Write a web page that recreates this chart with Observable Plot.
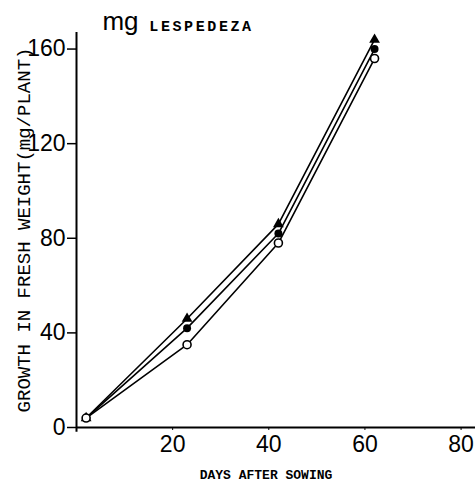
<!DOCTYPE html>
<html>
<head>
<meta charset="utf-8">
<script src="https://cdn.jsdelivr.net/npm/d3@7"></script>
<script src="https://cdn.jsdelivr.net/npm/@observablehq/plot@0.6"></script>
<style>
  html, body { margin: 0; padding: 0; background: #fff; }
</style>
</head>
<body>
<div id="chart"></div>
<script>
const days = [2, 23, 42, 62];
const seriesNames = ["triangle", "filled", "open"];
const triangleValues = [4, 46, 86, 164];
const filledValues = [4, 42, 82, 160];
const openValues = [4, 35, 78, 156];
const xTicks = [20, 40, 60, 80];
const yTicks = [0, 40, 80, 120, 160];
const titleText = "LESPEDEZA";
const unitText = "mg";
const xLabel = "DAYS AFTER SOWING";
const yLabel = "GROWTH IN FRESH WEIGHT(mg/PLANT)";

const valuesBySeries = { triangle: triangleValues, filled: filledValues, open: openValues };
const data = seriesNames.flatMap(s => days.map((d, i) => ({ series: s, day: d, value: valuesBySeries[s][i] })));

const mono = "'Liberation Mono', 'DejaVu Sans Mono', monospace";
const sans = "'Liberation Sans', Arial, sans-serif";

const chart = Plot.plot({
  width: 476,
  height: 488,
  marginLeft: 76,
  marginRight: 1,
  marginTop: 32,
  marginBottom: 61,
  style: { background: "#fff", color: "#000" },
  x: { domain: [0, 83] },
  y: { domain: [0, 167] },
  marks: [
    Plot.axisY({ ticks: yTicks, tickSize: 9, tickPadding: 2, fontSize: 23, fontFamily: sans, label: null, strokeWidth: 1.5 }),
    Plot.axisX({ ticks: xTicks, tickSize: 3, tickPadding: 5, fontSize: 23, fontFamily: sans, label: null }),
    Plot.ruleX([0], { stroke: "#000", strokeWidth: 2, y1: -2, y2: 167 }),
    Plot.ruleY([0], { stroke: "#000", strokeWidth: 2 }),
    Plot.line(data, { x: "day", y: "value", z: "series", stroke: "#000", strokeWidth: 1.6 }),
    Plot.dot(data.filter(d => d.series === "triangle"), { x: "day", y: "value", symbol: "triangle", fill: "#000", r: 4 }),
    Plot.dot(data.filter(d => d.series === "filled"), { x: "day", y: "value", symbol: "circle", fill: "#000", r: 4 }),
    Plot.dot(data.filter(d => d.series === "open"), { x: "day", y: "value", symbol: "circle", fill: "#fff", stroke: "#000", strokeWidth: 1.6, r: 4 }),
    Plot.text([unitText], { frameAnchor: "top-left", textAnchor: "middle", dx: 44, dy: -21, fontSize: 26, fontFamily: sans, fill: "#000" }),
    Plot.text([titleText], { frameAnchor: "top-left", textAnchor: "middle", dx: 125, dy: -12, fontSize: 15, fontFamily: mono, fontWeight: "bold", fill: "#000", className: "title-txt" }),
    Plot.text([xLabel], { frameAnchor: "bottom", textAnchor: "middle", dx: -10, dy: 51, fontSize: 13, fontFamily: mono, fontWeight: "bold", fill: "#000" }),
    Plot.text([yLabel], { frameAnchor: "left", textAnchor: "middle", dx: -53, rotate: -90, fontSize: 19, fontFamily: mono, fill: "#000" })
  ]
});
d3.select(chart).selectAll(".title-txt text").style("letter-spacing", "2.6px");
document.getElementById("chart").appendChild(chart);
</script>
</body>
</html>
